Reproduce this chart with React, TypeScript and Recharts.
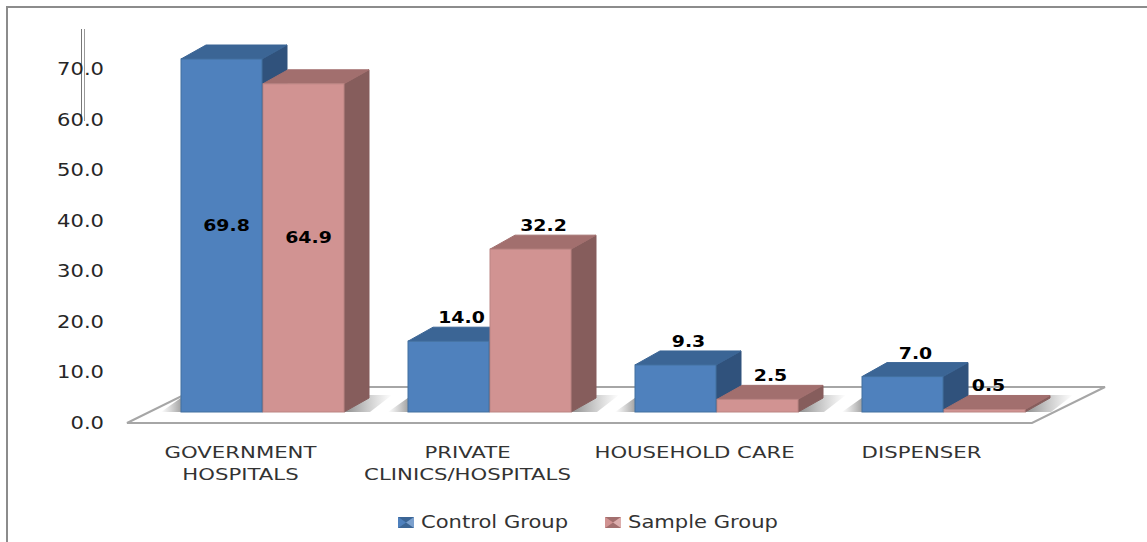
import { BarChart, Bar, XAxis, YAxis, Legend, LabelList, usePlotArea } from "recharts";

const categories = ["GOVERNMENT HOSPITALS", "PRIVATE CLINICS/HOSPITALS", "HOUSEHOLD CARE", "DISPENSER"];
const tickLines = [["GOVERNMENT", "HOSPITALS"], ["PRIVATE", "CLINICS/HOSPITALS"], ["HOUSEHOLD CARE"], ["DISPENSER"]];
const controlGroup = [69.8, 14.0, 9.3, 7.0];
const sampleGroup = [64.9, 32.2, 2.5, 0.5];
const yTicks = [0, 10, 20, 30, 40, 50, 60, 70];

const chartData = categories.map((name, i) => ({
  name,
  control: controlGroup[i],
  sample: sampleGroup[i],
}));

const FONT = "'DejaVu Sans', sans-serif";
const DEPTH_X = 25;
const DEPTH_Y = 14;

const BLUE = { front: "#4f81bd", top: "#3b6595", side: "#30527c", edge: "#43709f" };
const PINK = { front: "#d19392", top: "#a26f6e", side: "#865d5c", edge: "#bb8583" };

function Floor() {
  const plot = usePlotArea();
  if (!plot) return null;
  const left = plot.x;
  const right = plot.x + plot.width;
  const bottom = plot.y + plot.height;
  const pts = [
    [left - 22, bottom + 11],
    [right - 25, bottom + 11],
    [right + 48, bottom - 25],
    [left + 51, bottom - 25],
  ];
  return (
    <g>
      <polygon points={pts.map((p) => p.join(",")).join(" ")} fill="#fff" stroke="#a6a6a6" strokeWidth={2} />
      {/* stray double axis stroke in the source image */}
      <line x1={81.5} y1={29} x2={81.5} y2={121} stroke="#777" strokeWidth={1} />
      <line x1={84.5} y1={29} x2={84.5} y2={121} stroke="#999" strokeWidth={1} />
    </g>
  );
}

function Box({ x, y, width, height, colors, shadow }: any) {
  const r = x + width;
  const b = y + height;
  return (
    <g>
      {shadow === "left" && (
        <polygon points={`${x - 20},${b} ${x},${b} ${x},${b - 17} ${x + 4},${b - 17}`} fill="url(#shadowLeft)" />
      )}
      {shadow === "right" && (
        <polygon
          points={`${r},${b} ${r + 26},${b} ${r + 48},${b - 17} ${r + 25},${b - 17}`}
          fill="url(#shadowRight)"
        />
      )}
      <polygon
        points={`${r},${y} ${r + DEPTH_X},${y - DEPTH_Y} ${r + DEPTH_X},${b - DEPTH_Y} ${r},${b}`}
        fill={colors.side}
        stroke={colors.side}
        strokeLinejoin="round"
      />
      <polygon
        points={`${x},${y} ${x + DEPTH_X},${y - DEPTH_Y} ${r + DEPTH_X},${y - DEPTH_Y} ${r},${y}`}
        fill={colors.top}
        stroke={colors.top}
        strokeLinejoin="round"
      />
      <rect x={x} y={y} width={width} height={height} fill={colors.front} stroke={colors.edge} strokeWidth={1} />
    </g>
  );
}

function ValueLabel(props: any) {
  const { x, y, width, height, value } = props;
  const inside = value > 50;
  const dx = value < 1 ? 4 : inside ? 5 : 13;
  const tx = x + width / 2 + dx;
  const ty = inside ? y + height / 2 - 5 : y - 18;
  return (
    <text
      transform={`translate(${tx},${ty}) scale(1.22,1)`}
      textAnchor="middle"
      fontFamily={FONT}
      fontSize={15.5}
      fontWeight={700}
      fill="#000"
    >
      {value.toFixed(1)}
    </text>
  );
}

function YTick({ x, y, payload }: any) {
  return (
    <text
      transform={`translate(${x + 7},${y + 17}) scale(1.24,1)`}
      textAnchor="end"
      fontFamily={FONT}
      fontSize={17}
      fill="#262626"
    >
      {payload.value.toFixed(1)}
    </text>
  );
}

function XTick({ x, y, index }: any) {
  return (
    <g transform={`translate(${x - 22},${y})`}>
      {tickLines[index].map((line, i) => (
        <text
          key={line}
          transform={`translate(0,${38 + i * 22}) scale(1.37,1)`}
          textAnchor="middle"
          fontFamily={FONT}
          fontSize={15.5}
          fill="#333"
        >
          {line}
        </text>
      ))}
    </g>
  );
}

function LegendMark({ colors }: any) {
  return (
    <svg width={16} height={11} style={{ display: "block" }}>
      <rect width={16} height={11} fill={colors.front} />
      <polygon points="0,0 16,0 8,5.5" fill={colors.top} />
      <polygon points="0,11 16,11 8,5.5" fill={colors.top} />
      <polygon points="0,0 8,5.5 0,11" fill={colors.front} opacity={0.6} />
      <polygon points="16,0 8,5.5 16,11" fill="#fff" opacity={0.25} />
    </svg>
  );
}

function GroupLegend({ payload }: any) {
  const marks = [BLUE, PINK];
  return (
    <div style={{ display: "flex", gap: 35, fontFamily: FONT, fontSize: 17, color: "#333" }}>
      {(payload || []).map((item: any, i: number) => (
        <div key={item.value} style={{ display: "flex", alignItems: "center", gap: 7 }}>
          <LegendMark colors={marks[i]} />
          <span
            style={{
              whiteSpace: "nowrap",
              display: "inline-block",
              width: 149,
              transform: "scaleX(1.24)",
              transformOrigin: "left center",
            }}
          >
            {item.value}
          </span>
        </div>
      ))}
    </div>
  );
}

export default function App() {
  return (
    <div style={{ position: "absolute", left: 0, top: 0, width: 1147, height: 542, overflow: "hidden", background: "#fff" }}>
      <div
        style={{
          position: "absolute",
          left: 6,
          top: 6,
          width: 1141,
          height: 536,
          borderTop: "2px solid #8c8c8c",
          borderLeft: "2px solid #8c8c8c",
          boxSizing: "border-box",
        }}
      />
      <BarChart
        width={1147}
        height={542}
        data={chartData}
        margin={{ top: 58, right: 90, bottom: 0, left: 0 }}
        barCategoryGap={32}
        barGap={1}
        style={{ position: "absolute", left: 0, top: 0 }}
      >
        <defs>
          <linearGradient id="shadowLeft" x1="0" y1="0" x2="1" y2="0">
            <stop offset="0" stopColor="#999" stopOpacity={0} />
            <stop offset="1" stopColor="#808080" stopOpacity={0.9} />
          </linearGradient>
          <linearGradient id="shadowRight" x1="0" y1="0" x2="1" y2="0">
            <stop offset="0" stopColor="#808080" stopOpacity={0.9} />
            <stop offset="1" stopColor="#999" stopOpacity={0} />
          </linearGradient>
        </defs>
        <Floor />
        <XAxis
          dataKey="name"
          axisLine={false}
          tickLine={false}
          height={130}
          interval={0}
          tick={<XTick />}
        />
        <YAxis
          width={149}
          domain={[0, 70]}
          ticks={yTicks}
          axisLine={false}
          tickLine={false}
          tickMargin={46}
          interval={0}
          tick={<YTick />}
        />
        <Legend
          layout="horizontal"
          verticalAlign="middle"
          wrapperStyle={{ position: "absolute", left: 398, top: 512, width: "auto" }}
          content={<GroupLegend />}
        />
        <Bar
          dataKey="control"
          name="Control Group"
          fill={BLUE.front}
          isAnimationActive={false}
          shape={(p: any) => <Box {...p} colors={BLUE} shadow="left" />}
        >
          <LabelList dataKey="control" content={<ValueLabel />} />
        </Bar>
        <Bar
          dataKey="sample"
          name="Sample Group"
          fill={PINK.front}
          isAnimationActive={false}
          shape={(p: any) => <Box {...p} colors={PINK} shadow="right" />}
        >
          <LabelList dataKey="sample" content={<ValueLabel />} />
        </Bar>
      </BarChart>
    </div>
  );
}
